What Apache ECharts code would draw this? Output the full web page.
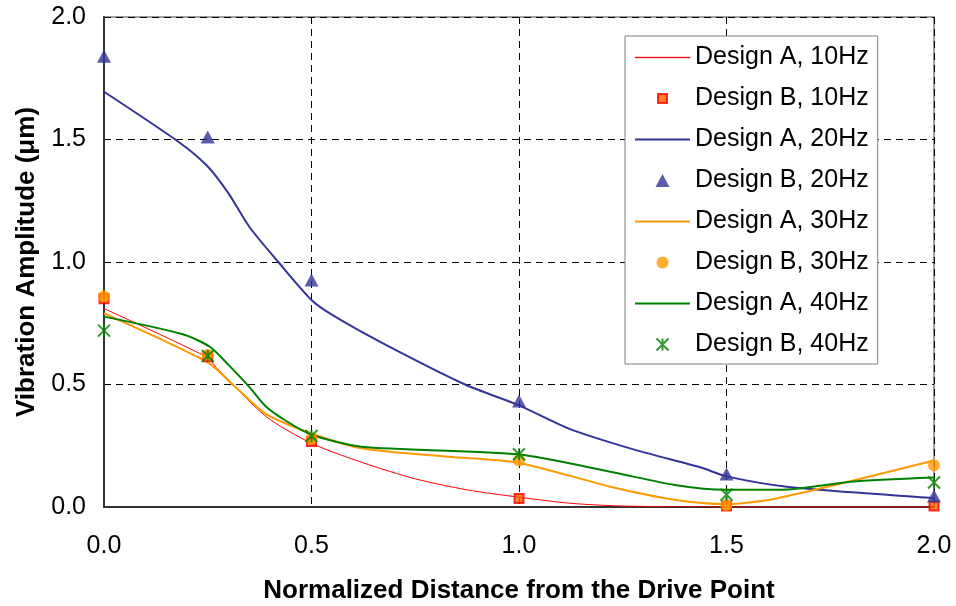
<!DOCTYPE html>
<html>
<head>
<meta charset="utf-8">
<script src="https://cdn.jsdelivr.net/npm/echarts@6/dist/echarts.min.js"></script>
<style>
html,body{margin:0;padding:0;background:#fff;}
#chart{width:956px;height:606px;}
</style>
</head>
<body>
<div id="chart"></div>
<script>
// Tick labels
const xTicks = [0.0, 0.5, 1.0, 1.5, 2.0];
const yTicks = [0.0, 0.5, 1.0, 1.5, 2.0];

// Design B measurement positions and values
const xPoints = [0, 0.25, 0.5, 1.0, 1.5, 2.0];
const designB10 = [0.85, 0.613, 0.267, 0.035, 0.004, 0.004];
const designB20 = [1.84, 1.51, 0.927, 0.433, 0.135, 0.045];
const designB30 = [0.86, 0.62, 0.28, 0.19, 0.008, 0.17];
const designB40 = [0.72, 0.617, 0.29, 0.215, 0.05, 0.1];

// Design A curves
const designA10X = [0, 0.25, 0.27, 0.39, 0.5, 0.625, 0.75, 0.875, 1.0, 1.125, 1.25, 1.5, 2.0];
const designA10Y = [0.81, 0.61, 0.57, 0.37, 0.26, 0.18, 0.115, 0.07, 0.04, 0.015, 0.004, 0, 0];

const designA20X = [0, 0.18, 0.25, 0.30, 0.35, 0.42, 0.5, 0.55, 0.67, 0.87, 1.0, 1.12, 1.28, 1.44, 1.5, 1.65, 2.0];
const designA20Y = [1.695, 1.49, 1.39, 1.28, 1.144, 1.0, 0.845, 0.784, 0.67, 0.5, 0.415, 0.32, 0.233, 0.16, 0.125, 0.082, 0.037];

const designA30X = [0, 0.25, 0.31, 0.39, 0.5, 0.62, 0.83, 1.0, 1.22, 1.375, 1.5, 1.62, 2.0];
const designA30Y = [0.79, 0.59, 0.50, 0.38, 0.30, 0.24, 0.205, 0.18, 0.083, 0.03, 0.012, 0.035, 0.19];

const designA40X = [0, 0.19, 0.255, 0.30, 0.35, 0.39, 0.44, 0.5, 0.62, 1.0, 1.22, 1.375, 1.5, 1.63, 1.8, 2.0];
const designA40Y = [0.777, 0.705, 0.654, 0.58, 0.49, 0.41, 0.35, 0.295, 0.246, 0.214, 0.144, 0.09, 0.07, 0.07, 0.103, 0.12];

const seriesNames = ['Design A, 10Hz','Design B, 10Hz','Design A, 20Hz','Design B, 20Hz','Design A, 30Hz','Design B, 30Hz','Design A, 40Hz','Design B, 40Hz'];

function pairs(xs, ys){ return xs.map((x,i)=>[x, ys[i]]); }

const FONT = '"Liberation Sans", Arial, sans-serif';
const STAR = 'path://M0,0L10,10M10,0L0,10M5,0L5,10';
const chart = echarts.init(document.getElementById('chart'), null, {renderer:'canvas'});

function lineSeries(name, xs, ys, color, width){
  return {
    name, type:'line', data: pairs(xs, ys), symbol:'none', showSymbol:false,
    smooth:0.25,
    lineStyle:{color, width}, itemStyle:{color}, z:2, animation:false
  };
}
function scatterSeries(name, ys, symbol, size, style){
  return {
    name, type:'scatter', data: pairs(xPoints, ys), symbol, symbolSize:size,
    itemStyle: style, z:3, animation:false
  };
}

// legend icons, padded to the 55x14 legend item box
const PAD = 'M0,0M55,14';
const icThin = 'path://' + PAD + 'M0,6.6L55,6.6L55,7.4L0,7.4Z';
const icThick = 'path://' + PAD + 'M0,6L55,6L55,8L0,8Z';
const icRect = 'path://' + PAD + 'M23,2.5L32,2.5L32,11.5L23,11.5Z';
const icTri = 'path://' + PAD + 'M20.5,13.5L27.5,0.5L34.5,13.5Z';
const icCirc = 'path://' + PAD + 'M33.5,7A6,6,0,1,1,21.5,7A6,6,0,1,1,33.5,7Z';
const icStar = 'path://' + PAD + 'M21.5,1L33.5,13M33.5,1L21.5,13M27.5,1L27.5,13';

const option = {
  backgroundColor:'#ffffff',
  animation:false,
  grid:{left:104, right:22, top:17, bottom:99, outerBoundsMode:'none', containLabel:false,
        show:true, borderColor:'#808080', borderWidth:1.5, backgroundColor:'transparent'},
  xAxis:{
    type:'value', min:xTicks[0], max:xTicks[xTicks.length-1], interval:0.5,
    name:'Normalized Distance from the Drive Point', nameLocation:'middle', nameGap:71,
    nameTextStyle:{fontFamily:FONT, fontSize:26, fontWeight:'bold', color:'#000'},
    axisLine:{show:true, lineStyle:{color:'#333', width:2}},
    axisTick:{show:false},
    axisLabel:{fontFamily:FONT, fontSize:25, color:'#000', margin:27, formatter:v=>v.toFixed(1)},
    splitLine:{show:true, lineStyle:{color:'#000', width:1, type:[7,5]}}
  },
  yAxis:{
    type:'value', min:yTicks[0], max:yTicks[yTicks.length-1], interval:0.5,
    name:'Vibration Amplitude (μm)', nameLocation:'middle', nameGap:64,
    nameTextStyle:{fontFamily:FONT, fontSize:26, fontWeight:'bold', color:'#000'},
    axisLine:{show:true, lineStyle:{color:'#333', width:2}},
    axisTick:{show:false},
    axisLabel:{fontFamily:FONT, fontSize:25, color:'#000', margin:18, formatter:v=>v.toFixed(1)},
    splitLine:{show:true, lineStyle:{color:'#000', width:1, type:[7,5]}}
  },
  legend:{
    orient:'vertical', left:625, top:36,
    padding:[9,9,7,9], itemWidth:55, itemHeight:14, itemGap:16,
    backgroundColor:'#fff', borderColor:'#808080', borderWidth:1,
    textStyle:{fontFamily:FONT, fontSize:25, color:'#000', lineHeight:25},
    data: [
      {name:seriesNames[0], icon:icThin, itemStyle:{color:'#FF0000', borderColor:'#FF0000', borderWidth:0.4}},
      {name:seriesNames[1], icon:icRect, itemStyle:{color:'#FF6600', borderColor:'#FF0000', borderWidth:2}},
      {name:seriesNames[2], icon:icThick, itemStyle:{color:'#333399', borderColor:'#333399', borderWidth:0}},
      {name:seriesNames[3], icon:icTri, itemStyle:{color:'#333399', borderColor:'#333399', borderWidth:0}},
      {name:seriesNames[4], icon:icThick, itemStyle:{color:'#FF9900', borderColor:'#FF9900', borderWidth:0}},
      {name:seriesNames[5], icon:icCirc, itemStyle:{color:'#FF9900', borderColor:'#FF9900', borderWidth:0}},
      {name:seriesNames[6], icon:icThick, itemStyle:{color:'#008000', borderColor:'#008000', borderWidth:0}},
      {name:seriesNames[7], icon:icStar, itemStyle:{color:'rgba(0,0,0,0)', borderColor:'#008000', borderWidth:2}}
    ]
  },
  series:[
    lineSeries(seriesNames[0], designA10X, designA10Y, '#FF0000', 1),
    scatterSeries(seriesNames[1], designB10, 'rect', 9, {color:'#FF6600', borderColor:'#FF0000', borderWidth:2}),
    lineSeries(seriesNames[2], designA20X, designA20Y, '#333399', 2),
    scatterSeries(seriesNames[3], designB20, 'triangle', [14,13], {color:'#333399'}),
    lineSeries(seriesNames[4], designA30X, designA30Y, '#FF9900', 2),
    scatterSeries(seriesNames[5], designB30, 'circle', 12, {color:'#FF9900'}),
    lineSeries(seriesNames[6], designA40X, designA40Y, '#008000', 2),
    scatterSeries(seriesNames[7], designB40, STAR, 12, {color:'rgba(0,0,0,0)', borderColor:'#008000', borderWidth:2})
  ]
};
chart.setOption(option);
</script>
</body>
</html>
